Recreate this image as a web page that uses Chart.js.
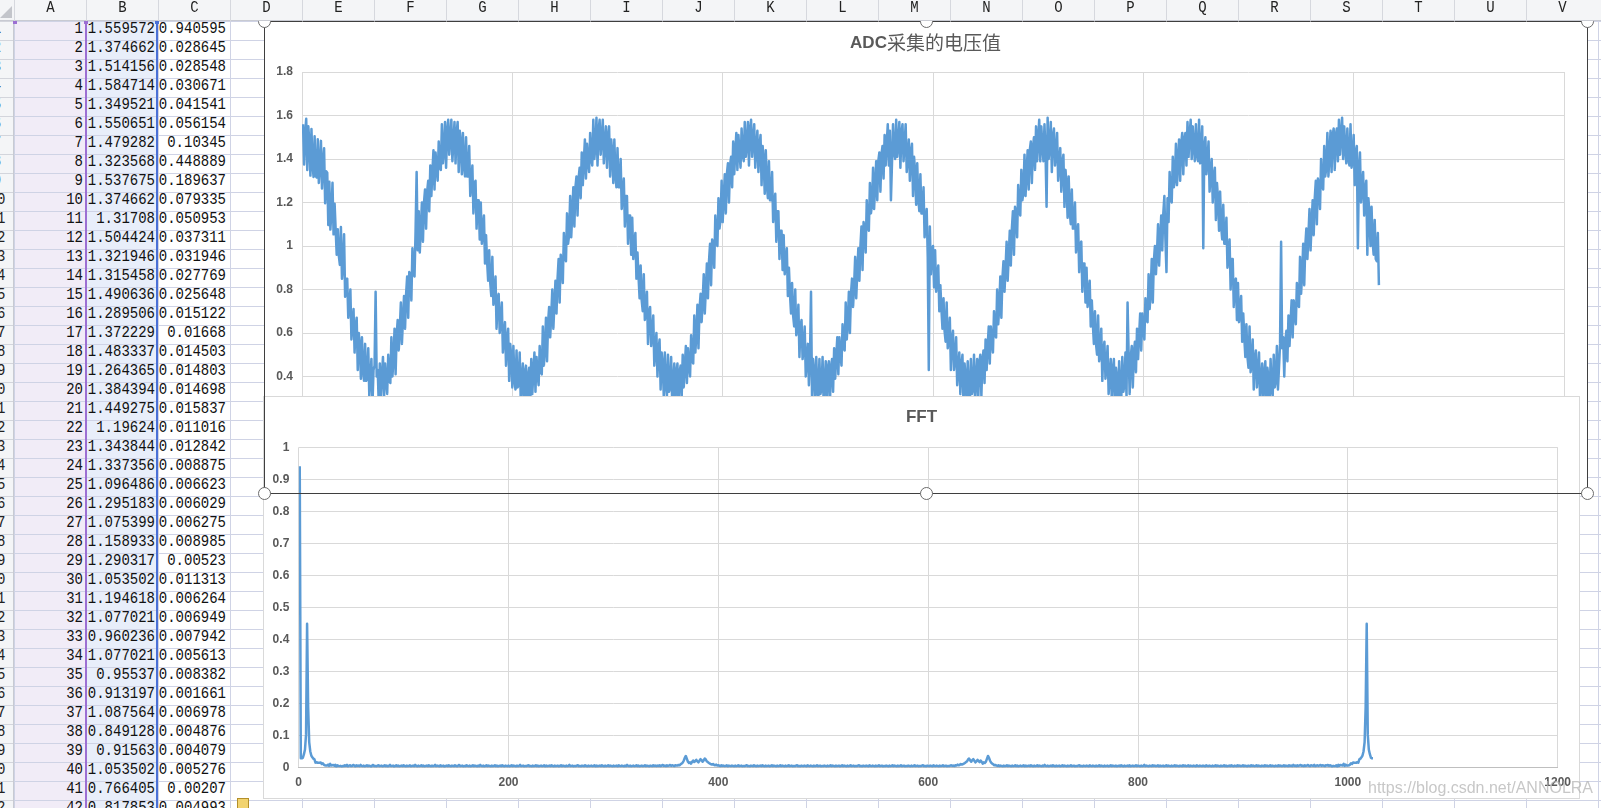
<!DOCTYPE html>
<html>
<head>
<meta charset="utf-8">
<script src="https://cdn.jsdelivr.net/npm/chart.js@4.4.1/dist/chart.umd.min.js"></script>
<style>
  html, body { margin: 0; padding: 0; }
  body { width: 1601px; height: 808px; overflow: hidden; position: relative; background: #fff; }
  .abs { position: absolute; }
  #colA { left: 15px; top: 22px; width: 71px; height: 786px; background: #f1ecf7; z-index: 0; }
  #colB { left: 87px; top: 22px; width: 70px; height: 786px; background: #e8eefa; z-index: 0; }
  #grid { left: 14px; top: 21px; width: 1587px; height: 787px; z-index: 1;
    background-image: linear-gradient(to right, #cfd3e5 1px, transparent 1px), linear-gradient(to bottom, #cfd3e5 1px, transparent 1px);
    background-size: 72px 19px; }
  #selPurple { left: 85px; top: 21px; width: 2px; height: 787px; background: #9c6fd3; z-index: 2; }
  #selBlue { left: 156px; top: 21px; width: 2px; height: 787px; background: #4a70d6; z-index: 2; }
  .cell { position: absolute; height: 19px; line-height: 20px; font: 14px "Liberation Mono", monospace; color: #111;
    text-align: right; z-index: 2; transform: scaleY(1.18); white-space: nowrap; }
  #header { left: 0; top: 0; width: 1601px; height: 21px; background: #f4f5f7; border-bottom: 1px solid #c8cad2; z-index: 9; box-sizing: border-box; }
  .colhead { position: absolute; top: 0; width: 72px; height: 20px; line-height: 22px; text-align: center;
    font: 14px "Liberation Mono", monospace; color: #222; border-left: 1px solid #d6d8de; box-sizing: border-box; transform: scaleY(1.15); }
  #corner { left: 0; top: 6px; width: 0; height: 0; border-left: 12px solid transparent; border-bottom: 12px solid #c3c5cb; z-index: 10; }
  #rowhead { left: 0; top: 21px; width: 14px; height: 787px; background: #f4f5f7; border-right: 1px solid #c8cad2; overflow: hidden; z-index: 3; box-sizing: border-box;
    background-image: linear-gradient(to bottom, #d3d5dc 1px, transparent 1px); background-size: 14px 19px; }
  .rownum { position: absolute; left: -23px; width: 40px; height: 19px; line-height: 20px; text-align: center;
    font: 14px "Liberation Mono", monospace; color: #222; transform: scaleY(1.15); }
  #topBox { left: 264px; top: 21px; width: 1323px; height: 472px; background: #fff; z-index: 4; }
  #fftBox { left: 263px; top: 396px; width: 1317px; height: 403px; background: #fff; border: 1px solid #d9d9d9; box-sizing: border-box; z-index: 5; }
  #fftBox canvas { position: absolute; left: 0; top: 0; }
  #selection { left: 264px; top: 21px; width: 1324px; height: 473px; border: 1px solid #3f3f3f; box-sizing: border-box; z-index: 6; }
  .handle { position: absolute; width: 11px; height: 11px; border-radius: 50%; background: #fff; border: 1px solid #6b6b6b; z-index: 7; }
  .mark { position: absolute; width: 4px; height: 3px; top: 21px; z-index: 10; }
  #paste { left: 237px; top: 798px; width: 10px; height: 12px; background: #f2d36e; border: 1px solid #b38f2a; z-index: 3; }
  #watermark { left: 1368px; top: 779px; font: 16px "Liberation Sans", Arial, sans-serif; color: rgba(180,180,180,0.75); z-index: 12; white-space: nowrap; }
</style>
</head>
<body>
<div id="colA" class="abs"></div>
<div id="colB" class="abs"></div>
<div id="grid" class="abs"></div>
<div id="selPurple" class="abs"></div>
<div id="selBlue" class="abs"></div>
<div id="cells"></div>
<div id="rowhead" class="abs"></div>
<div id="header" class="abs"></div>
<div id="corner" class="abs"></div>
<div class="mark" style="left:13px;background:#9c6fd3"></div>
<div class="mark" style="left:84px;background:#9c6fd3"></div>
<div class="mark" style="left:155px;background:#4a70d6"></div>
<div id="paste" class="abs"></div>
<div id="topBox" class="abs"><canvas id="adcChart" width="1323" height="472"></canvas></div>
<div id="fftBox" class="abs"><canvas id="fftChart" width="1315" height="401"></canvas></div>
<div id="selection" class="abs"></div>
<div id="watermark" class="abs">https://blog.csdn.net/ANNOLRA</div>
<script>
// column letters of the sheet
const columnLetters = ['A','B','C','D','E','F','G','H','I','J','K','L','M','N','O','P','Q','R','S','T','U','V'];

// ADC samples (column B), 1024 points
const adcValues = [
1.559572,1.374662,1.514156,1.584714,1.349521,1.550651,1.479282,1.323568,1.537675,1.374662,
1.31708,1.504424,1.321946,1.315458,1.490636,1.289506,1.372229,1.483337,1.264365,1.384394,
1.449275,1.19624,1.343844,1.337356,1.096486,1.295183,1.075399,1.158933,1.290317,1.053502,
1.194618,1.077021,0.960236,1.077021,0.95537,0.913197,1.087564,0.849128,0.91563,1.053502,
0.766405,0.817853,0.85,0.67,0.73,0.80,0.57,0.64,
0.71,0.51,0.63,0.67,0.43,0.60,0.54,0.39,0.58,0.43,0.38,0.55,
0.38,0.39,0.53,0.31,0.39,0.48,0.27,0.43,0.45,0.79,0.40,
0.43,0.27,0.46,0.31,0.40,0.49,0.30,0.46,0.38,0.32,0.50,0.38,0.37,0.58,0.40,0.48,0.62,0.41,0.59,0.66,0.52,0.62,0.74,0.55,0.66,
0.77,0.62,0.78,0.86,0.67,0.88,0.86,0.75,0.99,0.87,0.86,1.07,1.34,0.98,1.16,0.97,1.08,1.20,1.02,1.20,1.26,1.08,1.25,1.30,1.16,
1.37,1.23,1.34,1.44,1.26,1.43,1.36,1.30,1.48,1.36,1.35,1.56,1.38,1.44,1.57,1.36,1.52,1.58,1.42,1.50,
1.58,1.39,1.48,1.57,1.38,1.52,1.57,1.34,1.53,1.47,1.33,1.52,1.37,1.32,1.50,1.32,1.32,1.46,1.23,1.30,
1.37,1.15,1.29,1.30,1.08,1.21,1.21,1.03,1.20,1.01,1.08,1.14,0.92,1.05,0.93,0.84,0.98,0.83,0.77,0.95,
0.73,0.77,0.86,0.62,0.76,0.78,0.60,0.66,0.74,0.51,0.58,0.65,0.45,0.57,0.62,0.38,0.55,0.49,0.35,0.54,
0.39,0.34,0.52,0.35,0.36,0.51,0.29,0.38,0.46,0.26,0.42,0.45,0.25,0.40,0.44,0.28,0.48,0.32,0.42,0.51,
0.33,0.49,0.41,0.36,0.54,0.42,0.41,0.63,0.45,0.53,0.67,0.47,0.65,0.72,0.58,0.68,0.80,0.62,0.73,0.84,
0.69,0.85,0.94,0.74,0.96,0.93,0.83,1.06,0.95,0.93,1.15,1.01,1.05,1.23,1.04,1.15,1.27,1.09,1.27,1.32,
1.14,1.31,1.36,1.22,1.43,1.28,1.39,1.49,1.31,1.47,1.39,1.34,1.52,1.40,1.37,1.58,1.40,1.46,1.59,1.37,1.53,
1.58,1.42,1.50,1.58,1.38,1.47,1.55,1.36,1.50,1.55,1.32,1.49,1.43,1.29,1.49,1.33,1.27,1.45,1.27,
1.27,1.40,1.17,1.24,1.31,1.09,1.23,1.23,1.01,1.14,1.14,0.96,1.13,0.94,1.01,1.06,0.85,0.97,0.86,0.76,
0.91,0.75,0.70,0.87,0.66,0.70,0.79,0.55,0.69,0.72,0.54,0.60,0.68,0.45,0.52,0.60,0.40,0.52,0.57,0.34,
0.51,0.45,0.31,0.51,0.36,0.31,0.50,0.33,0.35,0.49,0.28,0.37,0.46,0.26,0.42,0.46,0.26,0.42,0.45,0.30,
0.50,0.35,0.45,0.54,0.37,0.53,0.45,0.40,0.59,0.47,0.46,0.68,0.51,0.59,0.73,0.53,0.71,0.78,0.65,0.75,
0.87,0.69,0.80,0.92,0.76,0.93,1.01,0.82,1.03,1.01,0.90,1.14,1.02,1.00,1.22,1.08,1.12,1.30,1.11,1.22,
1.33,1.15,1.33,1.38,1.20,1.37,1.41,1.27,1.48,1.33,1.43,1.52,1.35,1.51,1.43,1.36,1.54,1.42,1.39,1.57,1.41,1.47,
1.57,1.37,1.53,1.58,1.41,1.49,1.56,1.36,1.45,1.53,1.34,1.46,1.51,1.28,1.46,1.39,1.24,1.44,
1.28,1.22,1.39,1.21,1.21,1.34,1.11,1.18,1.24,1.02,1.16,1.16,0.94,1.07,1.07,0.89,1.05,0.87,0.93,0.99,
0.77,0.90,0.78,0.69,0.83,0.68,0.63,0.80,0.59,0.63,0.73,0.49,0.63,0.66,0.48,0.54,0.63,0.40,0.47,0.55,
0.36,0.48,0.79,0.30,0.48,0.42,0.28,0.49,0.34,0.30,0.48,0.32,0.34,0.49,0.28,0.37,0.47,0.27,0.44,0.47,
0.28,0.44,0.48,0.33,0.53,0.39,0.49,0.58,0.41,0.58,0.50,0.45,0.64,0.53,0.52,0.74,0.57,0.65,0.79,0.60,
0.78,0.85,0.72,0.82,0.95,0.76,0.88,0.99,0.84,1.00,1.09,0.89,1.11,1.08,0.97,1.21,1.09,1.07,1.29,1.15,
1.19,1.36,1.17,1.28,1.39,1.21,1.39,1.43,1.25,1.42,1.46,1.31,1.51,1.37,1.47,1.56,1.37,1.53,1.21,1.38,1.56,1.43,1.40,
1.58,1.41,1.47,1.57,1.36,1.52,1.56,1.39,1.47,1.56,1.34,1.41,1.49,1.30,1.43,1.47,1.23,
1.41,1.34,1.19,1.38,1.22,1.16,1.33,1.15,1.15,1.27,1.04,1.11,1.17,0.95,0.43,1.09,0.87,0.99,1.00,0.81,
0.98,0.79,0.86,0.91,0.70,0.82,0.71,0.62,0.76,0.61,0.56,0.74,0.53,0.57,0.67,0.43,0.57,0.61,0.43,0.49,
0.58,0.36,0.43,0.51,0.32,0.45,0.50,0.27,0.46,0.40,0.27,0.47,0.33,0.29,0.48,0.32,0.34,0.50,0.29,0.39,
0.48,0.29,0.46,0.50,0.31,0.47,0.52,0.37,0.57,0.43,0.54,0.63,0.46,0.63,0.56,0.51,0.70,0.59,0.58,0.80,
0.64,0.72,0.86,0.67,0.85,0.93,0.79,0.90,1.02,0.84,0.95,1.07,0.91,1.08,1.16,0.96,1.18,1.15,1.04,1.28,
1.16,1.14,1.35,1.21,1.25,1.42,1.23,1.34,1.44,1.26,1.44,1.48,1.29,1.45,1.50,1.35,1.55,1.39,1.49,1.58,1.39,1.55,1.46,1.39,
1.56,1.43,1.18,1.59,1.40,1.46,1.57,1.34,1.50,1.54,1.37,1.43,1.52,1.30,1.38,1.45,
1.25,1.38,1.42,1.18,1.35,1.28,1.13,1.32,1.16,1.10,1.26,1.08,1.08,1.20,0.97,1.04,1.10,0.88,1.01,1.02,
0.79,0.92,0.92,0.74,0.90,0.72,0.78,0.84,0.63,0.75,0.64,0.55,0.70,0.55,0.50,0.68,0.47,0.51,0.62,0.38,
0.52,0.56,0.39,0.45,0.54,0.32,0.40,0.48,0.29,0.43,0.48,0.26,0.44,0.39,0.26,0.47,0.33,0.29,0.49,0.33,
0.36,0.51,0.31,0.74,0.51,0.32,0.49,0.54,0.35,0.51,0.56,0.42,0.62,0.48,0.59,0.69,0.52,0.69,0.62,0.57,
0.76,0.66,0.65,0.87,0.71,0.79,0.94,0.74,0.93,1.00,0.87,0.97,1.10,0.91,1.03,1.14,0.98,1.15,1.23,1.03,
0.88,1.22,1.11,1.34,1.22,1.20,1.41,1.27,1.31,1.47,1.28,1.39,1.49,1.30,1.47,1.52,1.33,1.49,1.52,1.37,1.57,1.41,1.51,1.58,1.40,
1.55,1.46,1.39,1.56,1.42,1.39,1.58,1.38,1.44,1.55,0.99,1.46,1.50,1.33,1.40,
1.48,1.25,1.33,1.40,1.20,1.32,1.36,1.12,1.29,1.22,1.07,1.25,1.09,1.03,1.19,1.01,1.01,1.13,0.90,0.96,
1.03,0.80,0.94,0.94,0.72,0.84,0.85,0.66,0.83,0.65,0.71,0.77,0.56,0.69,0.58,0.49,0.64,0.49,0.44,0.63,
0.42,0.46,0.57,0.34,0.48,0.52,0.35,0.42,0.51,0.29,0.38,0.46,0.28,0.41,0.47,0.25,0.44,0.39,0.26,0.48,
0.34,0.31,0.50,0.35,0.38,0.54,0.34,0.44,0.55,1.02,0.53,0.58,0.40,0.56,0.61,0.47,0.68,0.54,0.65,0.75,
0.58,0.75,0.69,0.64,0.83,0.73,0.72,0.95,0.78,0.87,1.01,0.82,1.00,1.08,0.94,1.05,1.17,0.98,1.10,1.21,
1.05,1.22,1.30,1.10,1.31,1.28,1.17,1.40,1.28,1.26,1.46,1.32,1.36,1.52,1.32,1.42,1.53,1.34,1.51,1.54,1.35,1.51,1.54,1.39,1.58,1.42,
1.51,1.59,1.40,1.55,1.45,1.38,1.54,1.40,1.37,1.56,1.36,1.40,1.51,1.28,
1.43,1.46,0.99,1.35,1.43,1.20,1.27,1.34,1.14,1.26,1.30,0.96,1.22,1.15,1.00,1.18,1.02,0.96,1.12,0.94,0.93,1.06,0.82
];

// FFT magnitudes (column C), 1024 points
const fftValues = [
0.940595,0.028645,0.028548,0.030671,0.041541,0.056154,0.10345,0.448889,0.189637,0.079335,
0.050953,0.037311,0.031946,0.027769,0.025648,0.015122,0.01668,0.014503,0.014803,0.014698,
0.015837,0.011016,0.012842,0.008875,0.006623,0.006029,0.006275,0.008985,0.00523,0.011313,
0.006264,0.006949,0.007942,0.005613,0.008382,0.001661,0.006978,0.004876,0.004079,0.005276,
0.00207,
0.004993,0.004,0.007,0.005,0.008,0.003,0.006,0.007,0.004,0.005,0.008,0.006,0.003,0.007,0.005,0.006,0.004,0.008,0.005,
0.004,0.006,0.003,0.005,0.007,0.004,0.006,0.005,0.002,0.006,0.008,0.004,0.005,0.003,0.006,0.007,0.004,0.005,0.006,0.003,
0.005,0.007,0.004,0.006,0.003,0.005,0.008,0.004,0.005,0.006,0.002,0.005,0.007,0.004,0.006,0.003,0.005,0.006,0.004,0.007,
0.005,0.003,0.006,0.004,0.005,0.007,0.003,0.005,0.006,0.004,0.008,0.005,0.003,0.006,0.004,0.005,0.007,0.004,0.006,0.003,
0.005,0.006,0.004,0.007,0.005,0.003,0.006,0.004,0.005,0.008,0.004,0.006,0.005,0.003,0.007,0.004,0.005,0.006,0.002,0.005,
0.006,0.004,0.007,0.005,0.003,0.006,0.005,0.004,0.007,0.005,0.003,0.006,0.008,0.004,0.005,0.006,0.003,0.005,0.004,0.007,
0.005,0.004,0.006,0.003,0.005,0.007,0.004,0.006,0.005,0.003,0.006,0.004,0.008,0.005,0.004,0.006,0.003,0.005,0.007,0.004,
0.006,0.005,0.003,0.006,0.004,0.005,0.007,0.004,0.006,0.003,0.005,0.006,0.004,0.007,0.005,0.003,0.006,0.005,0.004,0.006,
0.003,0.005,0.007,0.004,0.006,0.005,0.003,0.006,0.004,0.005,0.008,0.004,0.005,0.006,0.003,0.005,0.004,0.006,0.007,0.004,
0.005,0.003,0.006,0.004,0.005,0.007,0.004,0.006,0.003,0.005,0.006,0.004,0.005,0.007,0.003,0.006,0.004,0.005,0.006,0.004,
0.007,0.005,0.003,0.006,0.004,0.005,0.006,0.003,0.005,0.007,0.004,0.006,0.005,0.003,0.006,0.004,0.005,0.008,0.004,0.005,
0.006,0.003,0.005,0.004,0.006,0.007,0.004,0.005,0.003,0.006,0.005,0.004,0.007,0.005,0.003,0.006,0.004,0.005,0.006,0.004,
0.005,0.007,0.003,0.006,0.004,0.005,0.006,0.004,0.007,0.005,0.003,0.006,0.004,0.005,0.007,0.004,0.006,0.005,0.003,0.006,
0.004,0.005,0.006,0.003,0.007,0.005,0.004,0.006,0.005,0.003,0.006,0.004,0.008,0.005,0.004,0.006,0.003,0.005,0.006,0.004,
0.005,0.007,0.004,0.006,0.003,0.005,0.006,0.004,0.005,0.007,0.004,0.006,0.005,0.003,0.006,0.005,0.004,0.007,0.005,0.006,
0.004,0.006,0.005,0.007,0.004,0.006,0.008,0.005,0.006,0.004,0.007,0.005,0.006,0.008,0.005,0.007,0.006,0.004,0.007,0.006,
0.006,0.008,0.007,0.010,0.012,0.015,0.021,0.030,0.036,0.027,0.018,0.014,0.016,0.012,0.018,0.022,0.017,0.020,0.024,0.019,
0.016,0.021,0.026,0.023,0.018,0.022,0.028,0.025,0.019,0.017,0.014,0.012,0.010,0.009,0.011,0.008,0.007,0.009,0.006,0.007,
0.006,0.004,0.007,0.005,0.006,0.004,0.005,0.007,0.003,0.006,0.005,0.004,0.006,0.005,0.003,0.006,0.004,0.005,0.007,0.004,
0.005,0.006,0.003,0.005,0.004,0.006,0.007,0.004,0.005,0.003,0.006,0.005,0.004,0.007,0.005,0.003,0.006,0.004,0.005,0.006,
0.004,0.007,0.005,0.003,0.006,0.004,0.005,0.006,0.003,0.005,0.007,0.004,0.006,0.005,0.003,0.006,0.004,0.005,0.007,0.004,
0.006,0.005,0.003,0.006,0.004,0.005,0.007,0.004,0.005,0.006,0.003,0.005,0.004,0.006,0.007,0.004,0.005,0.003,0.006,0.005,
0.004,0.006,0.005,0.003,0.007,0.005,0.004,0.006,0.005,0.003,0.006,0.004,0.005,0.007,0.004,0.005,0.006,0.003,0.005,0.004,
0.006,0.005,0.003,0.006,0.004,0.005,0.007,0.004,0.006,0.005,0.003,0.006,0.004,0.005,0.006,0.003,0.005,0.007,0.004,0.006,
0.005,0.003,0.006,0.004,0.005,0.007,0.004,0.005,0.006,0.003,0.005,0.004,0.006,0.007,0.004,0.005,0.003,0.006,0.005,0.004,
0.006,0.005,0.003,0.007,0.005,0.004,0.006,0.005,0.003,0.006,0.004,0.005,0.007,0.004,0.005,0.006,0.003,0.005,0.004,0.006,
0.005,0.003,0.006,0.004,0.005,0.007,0.004,0.006,0.005,0.003,0.006,0.004,0.005,0.007,0.004,0.005,0.006,0.003,0.005,0.004,
0.006,0.005,0.003,0.006,0.004,0.005,0.007,0.004,0.005,0.006,0.003,0.005,0.004,0.006,0.007,0.004,0.005,0.003,0.006,0.005,
0.004,0.006,0.005,0.003,0.007,0.005,0.004,0.006,0.005,0.003,0.006,0.004,0.005,0.007,0.004,0.005,0.006,0.003,0.005,0.004,
0.006,0.007,0.005,0.006,0.004,
0.007,0.006,0.009,0.007,0.008,0.011,0.009,0.010,0.012,0.014,0.017,0.019,0.025,0.028,0.022,0.018,0.023,0.026,0.021,0.016,
0.019,0.024,0.020,0.017,0.022,0.018,0.012,0.016,0.014,0.018,0.027,0.036,0.030,0.021,0.015,0.012,0.010,0.007,0.008,0.006,
0.005,0.007,0.004,0.006,0.005,0.003,0.006,0.004,0.005,0.007,0.004,0.006,0.005,0.003,0.006,
0.004,0.005,0.007,0.004,0.006,0.003,0.005,0.006,0.004,0.005,0.007,0.003,0.006,0.004,0.005,0.006,0.004,0.007,0.005,0.003,
0.006,0.004,0.005,0.007,0.004,0.006,0.005,0.003,0.006,0.004,0.008,0.005,0.004,0.006,0.003,0.005,0.006,0.004,0.007,0.005,
0.003,0.006,0.004,0.005,0.006,0.003,0.005,0.007,0.004,0.006,0.005,0.003,0.006,0.004,0.005,0.007,0.004,0.005,0.006,0.003,
0.005,0.004,0.006,0.007,0.004,0.005,0.003,0.006,0.005,0.004,0.006,0.005,0.003,0.007,0.005,0.004,0.006,0.005,0.003,0.006,
0.004,0.005,0.007,0.004,0.006,0.005,0.003,0.006,0.004,0.005,0.006,0.003,0.005,0.007,0.004,0.006,0.005,0.004,0.006,0.003,
0.005,0.006,0.004,0.007,0.005,0.003,0.006,0.004,0.005,0.006,0.004,0.007,0.003,0.005,0.006,0.004,0.005,0.007,0.004,0.006,
0.005,0.003,0.006,0.004,0.005,0.008,0.004,0.006,0.005,0.003,0.006,0.005,0.004,0.007,0.005,0.006,0.004,0.005,0.007,0.003,
0.006,0.004,0.005,0.006,0.003,0.005,0.007,0.004,0.006,0.005,0.003,0.006,0.004,0.005,0.007,0.004,0.006,0.005,0.003,0.006,
0.005,0.004,0.007,0.005,0.006,0.004,0.005,0.007,0.003,0.006,0.005,0.004,0.006,0.005,0.003,0.007,0.005,0.004,0.006,0.005,
0.004,0.006,0.005,0.003,0.007,0.005,0.004,0.006,0.005,0.003,0.006,0.004,0.005,0.007,0.004,0.006,0.005,0.003,0.006,0.004,
0.005,0.007,0.004,0.006,0.003,0.005,0.006,0.004,0.007,0.005,0.003,0.006,0.005,0.004,0.007,0.005,0.006,0.004,0.005,0.007,
0.004,0.006,0.005,0.003,0.006,0.005,0.004,0.007,0.005,0.006,0.004,0.005,0.007,0.004,0.006,0.005,0.003,0.006,0.005,0.004,
0.007,0.005,0.006,0.004,0.005,0.007,0.004,0.006,0.005,0.003,0.006,0.005,0.004,0.007,0.005,0.006,0.004,0.005,0.007,0.004,
0.006,0.005,0.004,0.007,0.005,0.006,0.004,0.008,0.005,0.006,0.004,0.007,0.005,0.006,0.008,0.005,0.006,0.004,0.007,0.005,
0.006,0.008,0.005,0.004,0.007,0.006,0.005,0.008,0.004,0.006,0.007,0.005,0.006,0.008,0.005,0.007,0.006,0.004,0.007,0.006,0.008,0.005,0.007,0.006,
0.00207,0.005276,0.004079,0.004876,0.006978,0.001661,0.008382,0.005613,0.007942,0.006949,
0.006264,0.011313,0.00523,0.008985,0.006275,0.006029,0.006623,0.008875,0.012842,0.011016,
0.015837,0.014698,0.014803,0.014503,0.01668,0.015122,0.025648,0.027769,0.031946,0.037311,
0.050953,0.079335,
0.189637,0.448889,0.10345,0.056154,0.041541,0.030671,0.028548,0.028645
];

const xTickValues = [0, 200, 400, 600, 800, 1000, 1200];
const adcTickValues = [0, 0.2, 0.4, 0.6, 0.8, 1, 1.2, 1.4, 1.6, 1.8];
const fftTickValues = [0, 0.1, 0.2, 0.3, 0.4, 0.5, 0.6, 0.7, 0.8, 0.9, 1];

// ---- spreadsheet background ----
const header = document.getElementById('header');
columnLetters.forEach((c, i) => {
  const d = document.createElement('div');
  d.className = 'colhead';
  d.style.left = (14 + i * 72) + 'px';
  d.textContent = c;
  header.appendChild(d);
});

const cells = document.getElementById('cells');
const rowhead = document.getElementById('rowhead');
const visibleRows = 42;
for (let r = 0; r < visibleRows; r++) {
  const top = 21 + r * 19;
  const rn = document.createElement('div');
  rn.className = 'rownum';
  rn.style.top = (r * 19) + 'px';
  rn.textContent = r + 1;
  rowhead.appendChild(rn);

  const texts = [String(r + 1), String(adcValues[r]), String(fftValues[r])];
  const rights = [83, 155, 226];
  texts.forEach((t, c) => {
    const d = document.createElement('div');
    d.className = 'cell';
    d.style.top = top + 'px';
    d.style.left = (rights[c] - 72) + 'px';
    d.style.width = '72px';
    d.textContent = t;
    cells.appendChild(d);
  });
}

// selection handles of the top chart
[[264, 21], [925.5, 21], [1587, 21], [264, 493], [925.5, 493], [1587, 493]].forEach(([x, y]) => {
  const h = document.createElement('div');
  h.className = 'handle';
  h.style.left = (x - 6) + 'px';
  h.style.top = (y - 6) + 'px';
  if (y < 30) h.style.zIndex = 8;
  document.body.appendChild(h);
});

// ---- charts ----
const mixedTitle = {
  id: 'mixedTitle',
  afterDraw(chart, args, opts) {
    const ctx = chart.ctx;
    ctx.save();
    ctx.fillStyle = '#595959';
    ctx.textBaseline = 'middle';
    ctx.textAlign = 'left';
    let total = 0;
    opts.parts.forEach(p => { ctx.font = p.font; p.w = ctx.measureText(p.text).width; total += p.w; });
    let x = chart.width / 2 - total / 2;
    opts.parts.forEach(p => { ctx.font = p.font; ctx.fillText(p.text, x, opts.y); x += p.w; });
    ctx.restore();
  }
};

const tickFont = { family: '"Liberation Sans", Arial, sans-serif', size: 12, weight: 'bold' };
const gridColor = '#d9d9d9';

function xScale(height) {
  return {
    type: 'linear', min: 0, max: 1200,
    afterBuildTicks: s => { s.ticks = xTickValues.map(v => ({ value: v })); },
    ticks: { color: '#595959', font: tickFont, padding: 8, maxRotation: 0, callback: v => String(v) },
    grid: { color: gridColor, drawTicks: false },
    border: { color: '#bfbfbf' },
    afterFit: s => { s.height = height; }
  };
}
function yScale(max, values, width, pad) {
  return {
    min: 0, max: max,
    afterBuildTicks: s => { s.ticks = values.map(v => ({ value: v })); },
    ticks: { color: '#595959', font: tickFont, padding: pad, callback: v => String(v) },
    grid: { color: gridColor, drawTicks: false },
    border: { display: false },
    afterFit: s => { s.width = width; }
  };
}

new Chart(document.getElementById('adcChart'), {
  type: 'scatter',
  data: {
    datasets: [{
      data: adcValues.map((v, i) => ({ x: i + 1, y: v })),
      showLine: true,
      borderColor: '#5b9bd5',
      borderWidth: 2.5,
      borderJoinStyle: 'round',
      pointRadius: 0,
      fill: false
    }]
  },
  options: {
    responsive: false,
    animation: false,
    devicePixelRatio: 1,
    layout: { padding: { top: 51, right: 23, left: 0, bottom: 0 } },
    plugins: {
      legend: { display: false },
      tooltip: { enabled: false },
      mixedTitle: {
        y: 22,
        parts: [
          { text: 'ADC', font: 'bold 17px "Liberation Sans", Arial, sans-serif' },
          { text: '采集的电压值', font: '19px "Noto Sans CJK SC", sans-serif' }
        ]
      }
    },
    scales: {
      x: xScale(29.5),
      y: yScale(1.8, adcTickValues, 38, 9)
    }
  },
  plugins: [mixedTitle]
});

new Chart(document.getElementById('fftChart'), {
  type: 'scatter',
  data: {
    datasets: [{
      data: fftValues.map((v, i) => ({ x: i + 1, y: v })),
      showLine: true,
      borderColor: '#5b9bd5',
      borderWidth: 2.5,
      borderJoinStyle: 'round',
      pointRadius: 0,
      fill: false
    }]
  },
  options: {
    responsive: false,
    animation: false,
    devicePixelRatio: 1,
    layout: { padding: { top: 50.3, right: 19.7, left: 0, bottom: 0 } },
    plugins: {
      legend: { display: false },
      tooltip: { enabled: false },
      mixedTitle: {
        y: 20.7,
        parts: [{ text: 'FFT', font: 'bold 17px "Liberation Sans", Arial, sans-serif' }]
      }
    },
    scales: {
      x: xScale(30.5),
      y: yScale(1, fftTickValues, 34.7, 9.4)
    }
  },
  plugins: [mixedTitle]
});
</script>
</body>
</html>
